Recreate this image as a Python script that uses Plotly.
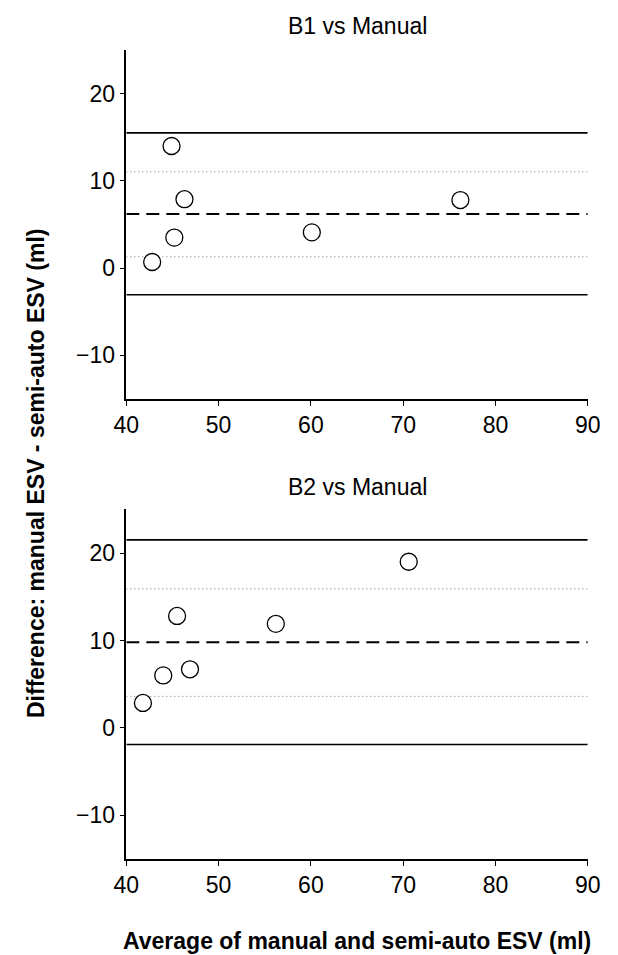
import plotly.graph_objects as go

# ---- data ----
b1_avg = [44.9, 46.3, 45.2, 42.8, 60.1, 76.2]
b1_diff = [14.0, 7.9, 3.5, 0.7, 4.1, 7.8]
b1_mean = 6.2
b1_ci = [1.3, 11.05]
b1_loa = [-3.05, 15.5]

b2_avg = [70.6, 45.5, 56.2, 46.9, 44.0, 41.8]
b2_diff = [19.0, 12.8, 11.9, 6.7, 6.0, 2.85]
b2_mean = 9.8
b2_ci = [3.6, 15.9]
b2_loa = [-1.9, 21.5]

x_range = [40, 90]
y_range = [-15, 25]
x_ticks = [40, 50, 60, 70, 80, 90]
y_ticks = [-10, 0, 10, 20]
titles = ["B1 vs Manual", "B2 vs Manual"]

W, H = 618, 955
FONT = "Liberation Sans"

fig = go.Figure()

panels = [
    (b1_avg, b1_diff, b1_mean, b1_ci, b1_loa, "x", "y"),
    (b2_avg, b2_diff, b2_mean, b2_ci, b2_loa, "x2", "y2"),
]

for avg, diff, mean, ci, loa, xa, ya in panels:
    for v in loa:
        fig.add_trace(go.Scatter(x=x_range, y=[v, v], mode="lines", xaxis=xa, yaxis=ya,
                                 line=dict(color="black", width=1.6), showlegend=False, hoverinfo="skip"))
    for v in ci:
        fig.add_trace(go.Scatter(x=x_range, y=[v, v], mode="lines", xaxis=xa, yaxis=ya,
                                 line=dict(color="#777777", width=1, dash="1px,3px"), showlegend=False, hoverinfo="skip"))
    fig.add_trace(go.Scatter(x=x_range, y=[mean, mean], mode="lines", xaxis=xa, yaxis=ya,
                             line=dict(color="black", width=2, dash="13px,7px"), showlegend=False, hoverinfo="skip"))
    fig.add_trace(go.Scatter(x=avg, y=diff, mode="markers", xaxis=xa, yaxis=ya,
                             marker=dict(size=17, color="white", line=dict(color="black", width=1.3)),
                             showlegend=False))

xdom = [118.3 / W, 600 / W]
ydom1 = [1 - 399 / H, 1 - 50 / H]
ydom2 = [1 - 859 / H, 1 - 509.3 / H]

axis_common = dict(showgrid=False, zeroline=False, showline=True, linecolor="black", linewidth=1.5,
                   ticks="outside", ticklen=5, tickwidth=1, tickcolor="black",
                   tickfont=dict(family=FONT, size=23, color="black"))

fig.update_layout(
    width=W, height=H, margin=dict(l=0, r=0, t=0, b=0),
    plot_bgcolor="white", paper_bgcolor="white",
    xaxis=dict(domain=xdom, range=x_range, tickvals=x_ticks, anchor="y", **axis_common),
    yaxis=dict(domain=ydom1, range=y_range, tickvals=y_ticks, anchor="x", **axis_common),
    xaxis2=dict(domain=xdom, range=x_range, tickvals=x_ticks, anchor="y2", **axis_common),
    yaxis2=dict(domain=ydom2, range=y_range, tickvals=y_ticks, anchor="x2", **axis_common),
)

xc = (xdom[0] + xdom[1]) / 2
fig.add_annotation(text=titles[0], x=xc, y=1 - 26 / H, xref="paper", yref="paper",
                   showarrow=False, font=dict(family=FONT, size=23, color="black"), xanchor="center", yanchor="middle")
fig.add_annotation(text=titles[1], x=xc, y=1 - 487 / H, xref="paper", yref="paper",
                   showarrow=False, font=dict(family=FONT, size=23, color="black"), xanchor="center", yanchor="middle")
fig.add_annotation(text="<b>Difference: manual ESV - semi-auto ESV (ml)</b>", x=24 / W, y=1 - 473 / H,
                   xref="paper", yref="paper", showarrow=False, textangle=-90,
                   font=dict(family=FONT, size=23, color="black"), xanchor="center", yanchor="middle")
fig.add_annotation(text="<b>Average of manual and semi-auto ESV (ml)</b>", x=xc, y=1 - 941 / H,
                   xref="paper", yref="paper", showarrow=False,
                   font=dict(family=FONT, size=23, color="black"), xanchor="center", yanchor="middle")

fig.write_html("out.html")
